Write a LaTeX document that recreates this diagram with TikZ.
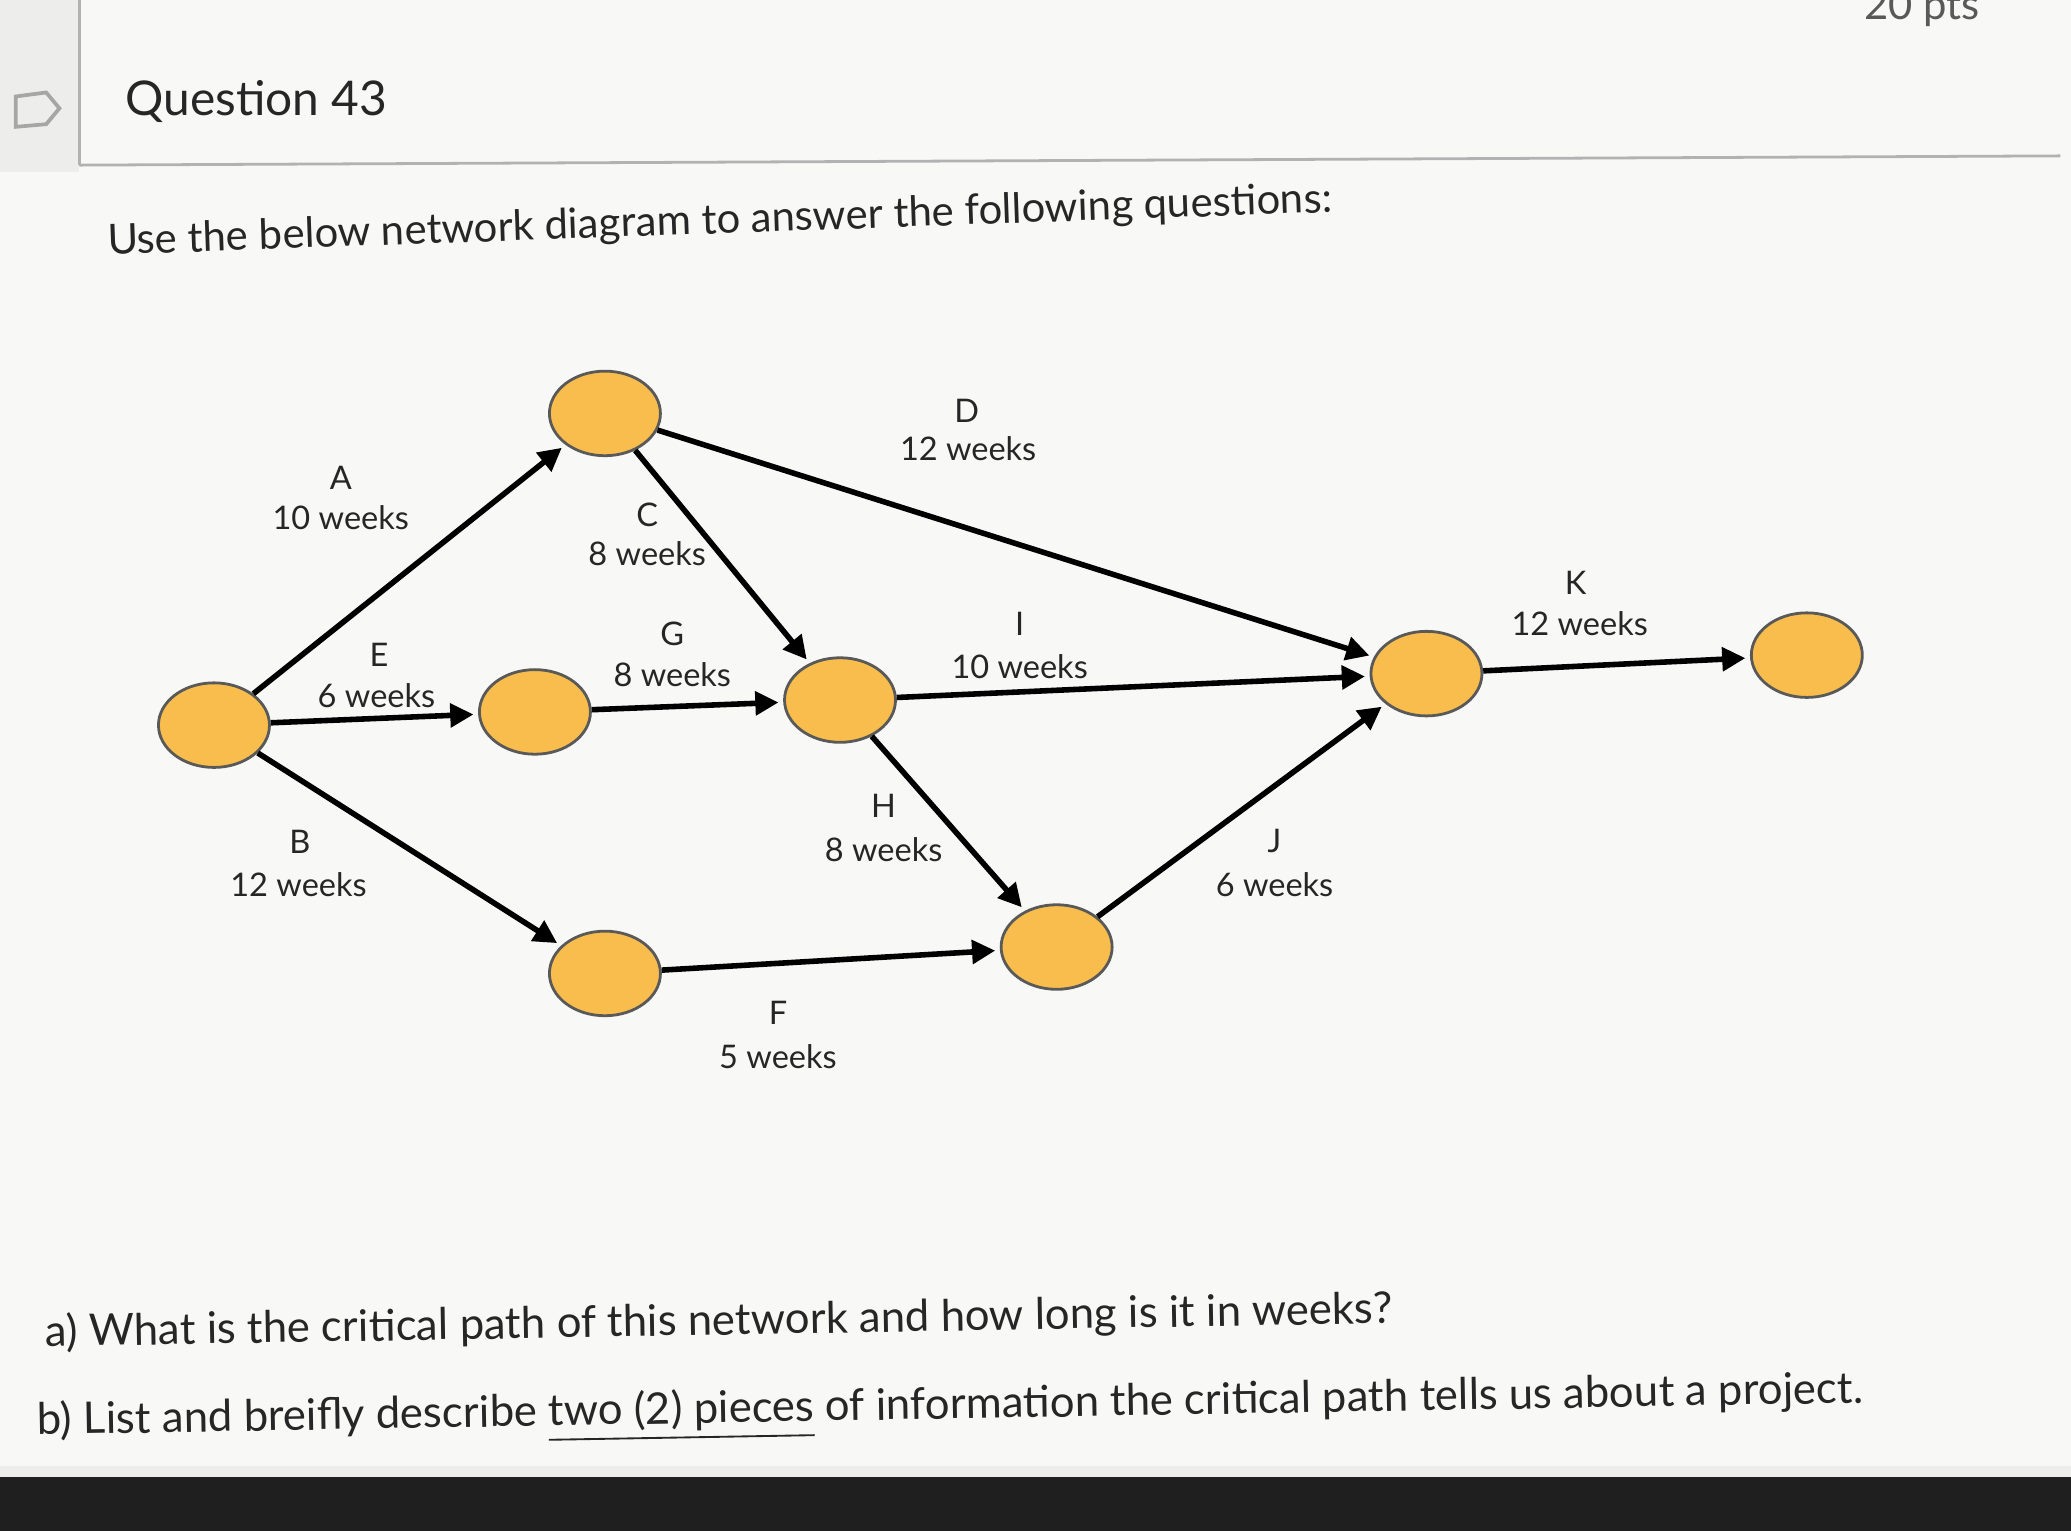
\documentclass[tikz,border=0pt]{standalone}
\usepackage{fontspec}
\setmainfont{Lato}
\usetikzlibrary{arrows.meta,shapes.geometric}
\definecolor{ev}{HTML}{F8BD4C}
\definecolor{bg}{HTML}{EDEDEB}
\begin{document}
\begin{tikzpicture}[x=0.01cm,y=-0.01cm,
 ev/.style={ellipse,fill=ev,draw=gray!70!black,line width=0.6pt,minimum width=0.84cm,minimum height=0.64cm,inner sep=0pt},
 act/.style={line width=1.2pt,-{Triangle[length=5pt,width=5pt]},shorten >=1pt},
 lb/.style={font=\fontsize{7}{9}\selectfont,text=black!85},
 big/.style={font=\fontsize{9}{11}\selectfont,text=black!85}]
\useasboundingbox (0,0) rectangle (1568,1159);
\fill[bg] (0,0) rectangle (1568,1159);
\fill[white!60!bg] (0,130) rectangle (1568,1110);
\fill[white!60!bg] (60,0) rectangle (1568,130);
\fill[black!88] (0,1118) rectangle (1568,1159);
\draw[gray!60,line width=0.6pt] (60,125) -- (1560,118);
\draw[gray!60,line width=0.6pt] (60,0) -- (60,125);
\draw[gray!70,line width=0.8pt] (12,73) -- (35,70) -- (45,82) -- (35,94) -- (12,96) -- cycle;
\node[big,font=\fontsize{10.3}{13}\selectfont] (q) at (194,77) {Question 43};
\node[lb,font=\fontsize{9}{11}\selectfont,text=gray!70!black] (pts) at (1455,6) {20 pts};
\node[big,rotate=2] (u) at (545,168) {Use the below network diagram to answer the following questions:};
\node[big,font=\fontsize{9.4}{12}\selectfont,anchor=west,rotate=1] (qa) at (22,1010) {a) What is the critical path of this network and how long is it in weeks?};
\node[big,font=\fontsize{9.4}{12}\selectfont,anchor=west,rotate=1] (qb) at (16,1080) {b) List and breifly describe \underline{two (2) pieces} of information the critical path tells us about a project.};
\node[ev] (n1) at (162,549) {};
\node[ev] (n2) at (458,313) {};
\node[ev] (n3) at (405,539) {};
\node[ev] (n4) at (636,530) {};
\node[ev] (n5) at (458,737) {};
\node[ev] (n6) at (800,717) {};
\node[ev] (n7) at (1080,510) {};
\node[ev] (n8) at (1368,496) {};
\draw[act] (n1) -- (n2);
\draw[act] (n1) -- (n3);
\draw[act] (n1) -- (n5);
\draw[act] (n2) -- (n4);
\draw[act] (n2) -- (n7);
\draw[act] (n3) -- (n4);
\draw[act] (n4) -- (n7);
\draw[act] (n4) -- (n6);
\draw[act] (n5) -- (n6);
\draw[act] (n6) -- (n7);
\draw[act] (n7) -- (n8);
\node[lb] (lA) at (258,362) {A}; \node[lb] (wA) at (258,392) {10 weeks};
\node[lb] (lC) at (490,390) {C}; \node[lb] (wC) at (490,419) {8 weeks};
\node[lb] (lD) at (732,311) {D}; \node[lb] (wD) at (733,340) {12 weeks};
\node[lb] (lK) at (1193,441) {K}; \node[lb] (wK) at (1196,472) {12 weeks};
\node[lb] (lG) at (509,480) {G}; \node[lb] (wG) at (509,511) {8 weeks};
\node[lb] (lI) at (772,472) {I}; \node[lb] (wI) at (772,505) {10 weeks};
\node[lb] (lE) at (287,496) {E}; \node[lb] (wE) at (285,527) {6 weeks};
\node[lb] (lB) at (227,637) {B}; \node[lb] (wB) at (226,670) {12 weeks};
\node[lb] (lH) at (669,610) {H}; \node[lb] (wH) at (669,643) {8 weeks};
\node[lb] (lJ) at (965,637) {J}; \node[lb] (wJ) at (965,670) {6 weeks};
\node[lb] (lF) at (589,767) {F}; \node[lb] (wF) at (589,800) {5 weeks};
\end{tikzpicture}
\end{document}
